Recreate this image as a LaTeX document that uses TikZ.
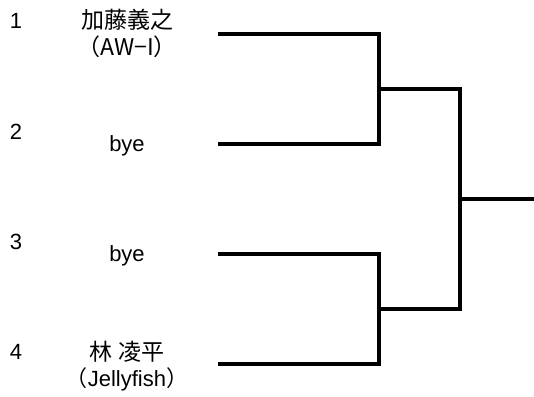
\documentclass[tikz,border=0pt]{standalone}
\usepackage{fontspec}
\setmainfont{Liberation Sans}
\newfontfamily\cjk{Noto Sans CJK JP}
\begin{document}
\begin{tikzpicture}[x=1pt,y=-1pt,
  lbl/.style={inner sep=0pt,font=\fontsize{22}{26}\selectfont},
  jp/.style={inner sep=0pt,font=\fontsize{23}{26}\selectfont\cjk},
  bline/.style={line width=4.3pt,line cap=butt}]
\useasboundingbox (0,0) rectangle (534,396);
% seed numbers
\node[lbl] (n1) at (16,21) {1};
\node[lbl] (n2) at (16,132) {2};
\node[lbl] (n3) at (16,242) {3};
\node[lbl] (n4) at (16,352) {4};
% names
\node[jp] (name1) at (127,20) {加藤義之};
\node[jp] (team1) at (127,47) {（AW−I）};
\node[lbl] (bye2) at (127,146) {bye};
\node[lbl] (bye3) at (127,256) {bye};
\node[jp] (name4) at (127,352) {林 凌平};
\node[lbl] (team4) at (127,379) {{\cjk （}Jellyfish{\cjk ）}};
% bracket points
\coordinate (a1) at (218,34);
\coordinate (a2) at (218,144);
\coordinate (a3) at (218,254);
\coordinate (a4) at (218,364);
\coordinate (b1) at (379,34);
\coordinate (b2) at (379,144);
\coordinate (b3) at (379,254);
\coordinate (b4) at (379,364);
\coordinate (m1) at (379,89);
\coordinate (m2) at (379,309);
\coordinate (c1) at (460,89);
\coordinate (c2) at (460,309);
\coordinate (f) at (460,199);
\coordinate (w) at (534,199);
\draw[bline] (a1) -- (b1) -- (b2) -- (a2);
\draw[bline] (a3) -- (b3) -- (b4) -- (a4);
\draw[bline] (m1) -- (c1) -- (c2) -- (m2);
\draw[bline] (f) -- (w);
\end{tikzpicture}
\end{document}
